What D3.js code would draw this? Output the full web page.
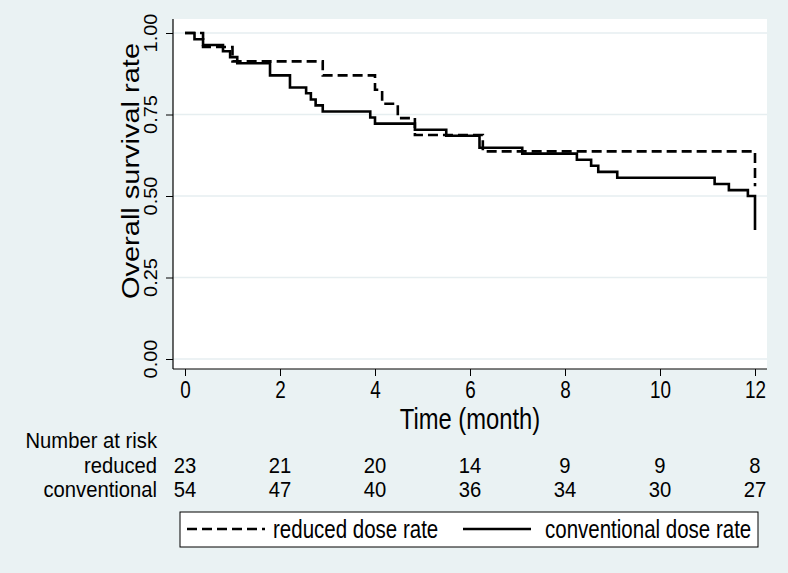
<!DOCTYPE html>
<html>
<head>
<meta charset="utf-8">
<script src="https://cdn.jsdelivr.net/npm/d3@7"></script>
<style>
  body { margin: 0; background: #eaf2f3; }
  svg { display: block; }
  text { font-family: "Liberation Sans", Arial, Helvetica, sans-serif; fill: #000; }
</style>
</head>
<body>
<div id="chart"></div>
<script>
// Kaplan-Meier steps
var reducedTime = [0, 0.38, 1.0, 2.9, 4.0, 4.15, 4.48, 4.84, 6.27, 12.0]
var reducedSurv = [1, 0.957, 0.913, 0.870, 0.826, 0.783, 0.739, 0.687, 0.637, 0.53]

var convTime = [0, 0.2, 0.38, 0.8, 0.95, 1.1, 1.79, 2.21, 2.55, 2.65, 2.75, 2.9, 3.9, 4.0, 4.84, 5.5, 6.2, 7.1, 8.25, 8.55, 8.7, 9.1, 11.15, 11.45, 11.85, 12.0]
var convSurv = [1, 0.981, 0.963, 0.944, 0.926, 0.907, 0.870, 0.833, 0.815, 0.796, 0.778, 0.759, 0.741, 0.722, 0.703, 0.685, 0.648, 0.630, 0.611, 0.593, 0.574, 0.556, 0.537, 0.518, 0.500, 0.396]

var xTicks = [0, 2, 4, 6, 8, 10, 12]
var yTicks = [0, 0.25, 0.5, 0.75, 1]

var riskGroups = ['reduced', 'conventional']
var riskReduced = [23, 21, 20, 14, 9, 9, 8]
var riskConv = [54, 47, 40, 36, 34, 30, 27]

var legendLabels = ['reduced dose rate', 'conventional dose rate']

var width = 788, height = 573
var sx = 0.82   // the picture is horizontally narrow

var svg = d3.select('#chart').append('svg')
    .attr('width', width)
    .attr('height', height)

svg.append('rect').attr('width', width).attr('height', height).attr('fill', '#eaf2f3')

var x = d3.scaleLinear().domain([0, 12]).range([185, 755])
var y = d3.scaleLinear().domain([0, 1]).range([359, 33])

// horizontal text, squeezed like the reference
function htext(g, px, py, str, size, anchor, k) {
    return g.append('text')
        .attr('transform', 'translate(' + px + ',' + py + ') scale(' + (k || sx) + ',1)')
        .attr('text-anchor', anchor || 'start')
        .style('font-size', size + 'px')
        .text(str)
}

// plot region
svg.append('rect')
    .attr('x', 173).attr('y', 19)
    .attr('width', 767 - 173).attr('height', 369 - 19)
    .attr('fill', '#fff')

// grid
svg.append('g')
    .selectAll('line')
    .data(yTicks)
    .enter()
    .append('line')
    .attr('x1', 173).attr('x2', 767)
    .attr('y1', d => y(d)).attr('y2', d => y(d))
    .attr('stroke', '#e6eef0')
    .attr('stroke-width', 1.5)

// axes
var xAxis = svg.append('g')
    .attr('transform', 'translate(0,369)')
    .call(d3.axisBottom(x).tickValues(xTicks).tickSize(7).tickSizeOuter(0).tickPadding(6))
xAxis.select('.domain').remove()
xAxis.selectAll('text')
    .attr('font-family', null)
    .attr('transform', 'scale(' + sx + ',1)')
    .style('font-size', '23px')
xAxis.selectAll('line').attr('stroke', '#000')

var yAxis = svg.append('g')
    .attr('transform', 'translate(173,0)')
    .call(d3.axisLeft(y).tickValues(yTicks).tickSize(7).tickSizeOuter(0).tickFormat(''))
yAxis.select('.domain').remove()
yAxis.selectAll('line').attr('stroke', '#000')

svg.append('line').attr('x1', 173).attr('x2', 767).attr('y1', 369).attr('y2', 369).attr('stroke', '#000').attr('stroke-width', 1.2)
svg.append('line').attr('x1', 173).attr('x2', 173).attr('y1', 19).attr('y2', 369).attr('stroke', '#000').attr('stroke-width', 1.2)

// rotated y tick labels
svg.append('g')
    .selectAll('text')
    .data(yTicks)
    .enter()
    .append('text')
    .attr('transform', d => 'translate(157,' + y(d) + ') scale(0.9,1) rotate(-90)')
    .attr('text-anchor', 'middle')
    .style('font-size', '20px')
    .text(d3.format('.2f'))

// axis titles
htext(svg, 470, 429, 'Time (month)', 29, 'middle')

svg.append('text')
    .attr('transform', 'translate(139,171) scale(' + sx + ',1) rotate(-90)')
    .attr('text-anchor', 'middle')
    .style('font-size', '29px')
    .text('Overall survival rate')

// survival curves
var line = d3.line()
    .x(d => x(d[0]))
    .y(d => y(d[1]))
    .curve(d3.curveStepAfter)

svg.append('path')
    .datum(d3.zip(convTime, convSurv))
    .attr('d', line)
    .attr('fill', 'none')
    .attr('stroke', '#000')
    .attr('stroke-width', 2.6)

svg.append('path')
    .datum(d3.zip(reducedTime, reducedSurv))
    .attr('d', line)
    .attr('fill', 'none')
    .attr('stroke', '#000')
    .attr('stroke-width', 2.6)
    .attr('stroke-dasharray', '10,5')

// number at risk table
var tk = 0.92
htext(svg, 157, 448, 'Number at risk', 22, 'end', tk)

var rowY = [473, 497]
riskGroups.forEach(function (g, i) {
    htext(svg, 157, rowY[i], g, 22, 'end', tk)
})

;[riskReduced, riskConv].forEach(function (row, i) {
    var rg = svg.append('g')
    row.forEach(function (n, j) {
        htext(rg, x(xTicks[j]), rowY[i], n, 22, 'middle', tk)
    })
})

// legend
var lg = svg.append('g')
lg.append('rect')
    .attr('x', 180).attr('y', 512)
    .attr('width', 758 - 180).attr('height', 547 - 512)
    .attr('fill', '#fff')
    .attr('stroke', '#000')
    .attr('stroke-width', 1)

lg.append('line')
    .attr('x1', 187).attr('x2', 265).attr('y1', 529).attr('y2', 529)
    .attr('stroke', '#000').attr('stroke-width', 2.6)
    .attr('stroke-dasharray', '10,5')
htext(lg, 273, 538, legendLabels[0], 25)

lg.append('line')
    .attr('x1', 463).attr('x2', 531).attr('y1', 529).attr('y2', 529)
    .attr('stroke', '#000').attr('stroke-width', 2.6)
htext(lg, 545, 538, legendLabels[1], 25)
</script>
</body>
</html>
